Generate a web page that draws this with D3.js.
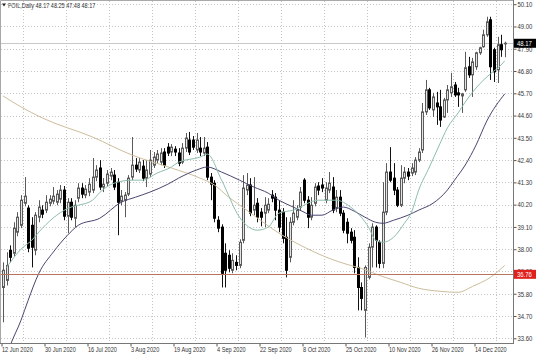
<!DOCTYPE html>
<html>
<head>
<meta charset="utf-8">
<script src="https://cdn.jsdelivr.net/npm/d3@7"></script>
<style>
  body { margin: 0; background: #fff; }
  svg { display: block; font-family: "Liberation Sans", Arial, sans-serif; }
</style>
</head>
<body>
<svg id="chart" width="536" height="357"></svg>
<script>
// chart title / last bar values
const symbol = 'FOIL,Daily';

// daily bars
const opens = [36.11,36.46,37.95,37.80,38.84,39.18,40.27,40.03,39.18,37.95,
  39.58,39.93,39.93,40.27,40.37,40.32,40.47,40.92,39.63,40.32,
  39.53,40.52,41.02,40.67,40.82,40.92,41.56,42.01,41.07,41.26,
  41.61,41.66,41.31,40.37,40.42,40.72,41.56,42.15,41.91,42.10,
  41.51,41.71,42.15,42.40,42.30,42.80,43.04,42.80,42.94,42.75,
  42.30,42.99,43.39,43.39,42.90,42.99,42.75,43.04,41.56,41.26,
  39.43,39.09,37.80,37.70,36.96,37.35,37.20,38.44,40.92,41.17,
  39.93,40.27,39.83,39.78,39.93,40.67,40.57,39.93,39.83,38.59,
  37.60,39.33,39.58,40.08,41.41,40.42,39.58,40.27,41.12,41.17,
  40.42,40.92,41.07,40.03,40.57,39.78,39.33,38.84,38.59,37.10,
  36.11,34.98,36.61,38.10,39.09,38.34,37.30,39.83,41.81,41.51,
  40.92,40.17,41.51,41.81,41.76,41.81,42.40,42.90,44.78,45.87,
  44.88,45.22,45.03,44.53,45.37,45.72,46.11,45.72,45.57,45.87,
  47.01,46.61,47.01,47.70,48.00,48.59,49.33,47.85,46.86,48.10,
  48.17];
const highs = [37.35,37.85,38.19,39.33,39.83,40.67,41.56,40.17,39.58,39.83,
  40.42,40.17,40.67,40.67,41.07,40.92,41.17,41.12,40.52,40.52,
  40.42,41.26,41.26,41.17,41.51,42.50,42.15,42.40,41.51,41.91,
  42.01,41.91,41.51,40.92,40.82,41.66,43.54,42.50,42.50,42.40,
  42.40,42.90,42.80,42.90,42.99,42.99,43.24,43.19,43.09,42.99,
  43.24,43.74,43.79,43.59,43.74,43.54,43.54,43.29,41.76,41.41,
  39.63,39.23,38.29,37.95,37.80,37.70,38.49,41.66,41.76,41.51,
  41.56,40.52,40.03,40.57,40.52,40.92,40.77,40.42,40.03,39.58,
  39.58,40.42,40.17,41.07,41.51,40.62,40.57,41.26,41.31,41.51,
  41.31,41.81,41.56,40.92,40.92,39.93,39.53,39.04,38.94,37.60,
  36.36,37.20,38.29,39.28,39.18,38.44,41.31,42.25,43.04,42.25,
  41.07,42.15,42.06,42.01,42.25,42.55,42.99,45.22,46.36,45.97,
  45.72,45.77,45.87,45.47,46.11,46.71,46.26,45.97,45.72,47.75,
  47.50,47.45,47.75,48.00,48.84,49.48,49.48,47.95,48.49,48.59,
  48.25];
const lows = [34.39,36.21,37.35,37.65,38.64,39.04,40.12,37.85,37.10,37.70,
  39.33,39.53,39.78,40.12,40.22,40.17,40.27,39.43,38.79,39.43,
  39.09,40.32,40.52,40.52,40.62,40.77,41.36,40.92,40.82,41.12,
  41.41,40.92,38.69,40.17,39.58,40.62,41.41,41.81,41.76,41.36,
  41.07,41.56,42.01,42.25,42.15,42.01,42.60,42.60,42.60,42.10,
  42.20,42.80,42.65,42.90,42.75,42.60,42.60,41.41,40.42,39.33,
  38.84,36.11,36.11,36.86,36.81,36.96,37.06,38.29,40.67,39.63,
  39.68,39.33,39.13,39.09,39.78,40.32,39.43,38.84,38.29,36.61,
  37.35,39.18,39.43,39.93,40.27,39.04,39.43,40.12,40.67,40.82,
  40.27,40.77,39.78,39.83,39.63,38.79,38.29,38.29,36.81,34.98,
  34.98,33.64,36.51,37.10,37.10,37.06,37.06,39.68,41.31,40.67,
  40.08,40.08,41.26,41.41,41.61,41.66,42.30,42.75,44.63,44.88,
  44.53,44.14,44.04,44.48,44.73,45.52,45.52,45.03,44.73,45.77,
  46.46,45.52,46.86,47.60,47.95,48.49,46.36,46.26,46.21,47.50,
  47.48];
const closes = [36.96,37.20,37.60,39.04,39.58,40.42,40.62,38.05,38.10,39.68,
  40.08,39.73,40.32,40.47,40.62,40.72,40.92,39.63,40.32,39.58,
  40.17,41.02,40.72,40.97,41.21,41.56,41.91,41.07,41.21,41.71,
  41.81,41.07,40.32,40.62,40.67,41.51,42.15,41.96,42.30,41.51,
  41.91,42.40,42.55,42.70,42.75,42.15,42.75,43.04,42.80,42.25,
  42.99,43.49,42.80,43.04,43.39,42.80,42.99,41.56,41.21,39.53,
  39.04,36.81,36.96,37.06,37.45,37.20,38.34,41.02,41.17,39.78,
  40.17,39.58,39.58,40.17,40.22,40.52,39.93,39.09,38.54,36.96,
  39.33,39.78,39.93,40.82,40.42,39.58,40.17,41.07,40.92,41.02,
  41.02,41.26,39.93,40.57,39.78,38.94,38.79,38.44,37.10,36.11,
  35.57,37.10,38.10,39.09,38.44,37.30,39.83,41.81,41.41,40.92,
  40.17,41.51,41.81,41.61,42.01,42.40,42.80,44.78,45.87,44.98,
  45.52,45.03,44.38,45.37,45.87,46.02,45.62,45.62,45.67,46.96,
  46.61,47.25,47.70,47.95,48.59,49.23,47.01,46.76,48.10,47.85,
  48.17];

// moving averages, [bar index, value] read at sample points
const maFast = [[1,37.10],[5,38.00],[8,38.44],[11,39.04],[15,39.68],[19,40.08],[21,40.17],
  [25,40.42],[27,40.80],[31,41.26],[36,41.41],[39,41.41],[43,41.76],[47,42.06],[49,42.30],
  [55,42.55],[57,42.70],[61,41.41],[66,39.58],[71,38.94],[74,39.09],[77,39.78],[81,39.93],
  [88,40.42],[93,40.42],[97,40.08],[100,39.58],[102,39.09],[104,38.44],[106,38.34],[109,38.59],
  [112,39.28],[114,39.83],[116,40.92],[119,42.06],[122,43.24],[124,43.99],[127,44.73],
  [129,45.27],[133,46.16],[136,46.66],[139,47.10],[140,47.30]];
const maMid = [[1,32.74],[2,33.24],[5,34.48],[7,35.47],[10,36.81],[14,37.85],[18,38.69],
  [21,39.18],[27,39.53],[33,40.32],[37,40.57],[41,40.82],[46,41.21],[49,41.51],[54,41.91],
  [57,42.06],[61,41.81],[66,41.41],[70,41.07],[74,40.77],[77,40.42],[81,40.08],[84,39.83],
  [86,39.68],[89,39.68],[92,39.93],[95,40.08],[98,39.88],[101,39.58],[104,39.33],[106,39.28],
  [109,39.43],[113,39.68],[116,39.93],[120,40.27],[124,40.92],[126,41.41],[129,42.16],
  [132,43.14],[135,44.33],[140,45.67]];
const maSlow = [[0,45.57],[5,45.03],[11,44.48],[25,43.54],[36,42.65],[47,42.01],[55,41.51],
  [59,41.17],[63,40.57],[68,39.93],[73,39.28],[77,38.79],[82,38.29],[87,37.85],[91,37.55],
  [96,37.25],[100,37.05],[105,36.71],[111,36.36],[116,36.07],[122,35.92],[127,35.87],
  [131,36.16],[136,36.61],[140,37.20]];

// axis labels
const priceTicks = [50.10,49.00,47.90,46.80,45.70,44.60,43.50,42.40,41.30,40.20,39.10,38.00,36.90,35.80,34.70,33.60];
const dateTicks = [0,12,24,36,48,60,72,84,96,108,120,132];
const dateLabels = ['12 Jun 2020','30 Jun 2020','16 Jul 2020','3 Aug 2020','19 Aug 2020','4 Sep 2020',
  '22 Sep 2020','8 Oct 2020','25 Oct 2020','10 Nov 2020','26 Nov 2020','14 Dec 2020'];
const levelLine = 36.76;

const width = 536, height = 357;
const plotRight = 513, plotBottom = 343;
const last = closes.length - 1;

const svg = d3.select('#chart');

// set ranges
let x = d3.scaleLinear().domain([0, last]).range([3, 504.7]);
let y = d3.scaleLinear().domain([33.60, 50.10]).range([338.3, 4.2]);
const px = i => Math.round(x(i));

svg.append('defs').append('clipPath').attr('id', 'plot')
  .append('rect').attr('width', plotRight).attr('height', plotBottom);

// grid
let grid = svg.append('g')
  .attr('stroke', '#c4c4c4')
  .attr('stroke-dasharray', '1,2');
grid.selectAll('line.h').data(priceTicks).join('line')
  .attr('class', 'h')
  .attr('x1', 1).attr('x2', plotRight)
  .attr('y1', d => Math.round(y(d)) + 0.5)
  .attr('y2', d => Math.round(y(d)) + 0.5);
grid.selectAll('line.v').data(dateTicks).join('line')
  .attr('class', 'v')
  .attr('x1', d => Math.round(x(d + 5.5)) + 0.5)
  .attr('x2', d => Math.round(x(d + 5.5)) + 0.5)
  .attr('y1', 1).attr('y2', plotBottom);

let plot = svg.append('g').attr('clip-path', 'url(#plot)');

// bid line
plot.append('line')
  .attr('x1', 0).attr('x2', plotRight)
  .attr('y1', Math.round(y(closes[last])) + 0.5)
  .attr('y2', Math.round(y(closes[last])) + 0.5)
  .attr('stroke', '#c8c8c8');

// candles
const idx = d3.range(closes.length);
const isUp = i => closes[i] >= opens[i];

plot.selectAll('line.wick').data(idx).join('line')
  .attr('class', 'wick')
  .attr('x1', i => px(i) + 0.5).attr('x2', i => px(i) + 0.5)
  .attr('y1', i => y(highs[i])).attr('y2', i => y(lows[i]))
  .attr('stroke', i => isUp(i) ? '#5a5a5a' : '#111');

plot.selectAll('rect.body').data(idx).join('rect')
  .attr('class', 'body')
  .attr('x', i => px(i) - 0.5)
  .attr('width', 2)
  .attr('y', i => y(Math.max(opens[i], closes[i])))
  .attr('height', i => Math.max(0.6, Math.abs(y(opens[i]) - y(closes[i]))))
  .attr('fill', i => isUp(i) ? '#e4e4e4' : '#000')
  .attr('stroke', i => isUp(i) ? '#5a5a5a' : '#000')
  .attr('stroke-width', 1);

// moving averages
let maLine = d3.line()
  .x(d => x(d[0]))
  .y(d => y(d[1]))
  .curve(d3.curveMonotoneX);

plot.append('path').datum(maSlow)
  .attr('d', maLine).attr('fill', 'none').attr('stroke', '#cdbd9c').attr('stroke-width', 1);
plot.append('path').datum(maMid)
  .attr('d', maLine).attr('fill', 'none').attr('stroke', '#48466f').attr('stroke-width', 1);
plot.append('path').datum(maFast)
  .attr('d', maLine).attr('fill', 'none').attr('stroke', '#8dbdae').attr('stroke-width', 1);

// horizontal level
plot.append('line')
  .attr('x1', 0).attr('x2', plotRight)
  .attr('y1', Math.round(y(levelLine)) + 0.5)
  .attr('y2', Math.round(y(levelLine)) + 0.5)
  .attr('stroke', '#b8735f');

// frame
svg.append('path')
  .attr('d', 'M' + plotRight + '.5,0.5 H0.5 V' + plotBottom + '.5')
  .attr('fill', 'none').attr('stroke', '#a8a8a8');

// price axis
let yAxis = svg.append('g')
  .attr('transform', 'translate(' + (plotRight + 0.5) + ',0)')
  .call(d3.axisRight(y).tickValues(priceTicks).tickFormat(d3.format('.2f')).tickSize(3).tickSizeOuter(0));
yAxis.select('.domain').remove();
yAxis.selectAll('line').attr('stroke', '#555');
yAxis.selectAll('text')
  .attr('fill', '#333').attr('font-size', '7px')
  .attr('x', 4 / 0.85).attr('transform', 'scale(0.85,1)');
svg.append('line')
  .attr('x1', plotRight + 0.5).attr('x2', plotRight + 0.5)
  .attr('y1', 0).attr('y2', plotBottom + 1)
  .attr('stroke', '#777');

// time axis
let xAxis = svg.append('g')
  .attr('transform', 'translate(0,' + (plotBottom + 0.5) + ')')
  .call(d3.axisBottom(x).tickValues(dateTicks).tickFormat((d, i) => dateLabels[i]).tickSize(3).tickSizeOuter(0));
xAxis.select('.domain').remove();
xAxis.selectAll('line').attr('stroke', '#555');
xAxis.selectAll('.tick')
  .attr('transform', d => 'translate(' + (px(d) - 1) + ',0)');
xAxis.selectAll('text')
  .attr('fill', '#333').attr('font-size', '7px')
  .attr('text-anchor', 'start')
  .attr('x', 0).attr('y', 4).attr('transform', 'scale(0.8,1)');
svg.append('line')
  .attr('x1', 0).attr('x2', plotRight + 1)
  .attr('y1', plotBottom + 0.5).attr('y2', plotBottom + 0.5)
  .attr('stroke', '#777');

// price tags on the axis
function tag(price, fill) {
  let t = svg.append('g').attr('transform', 'translate(' + (plotRight + 1) + ',' + y(price) + ')');
  t.append('rect').attr('x', 0).attr('y', -4.5).attr('width', 22).attr('height', 9).attr('fill', fill);
  t.append('text')
    .attr('x', 3 / 0.85).attr('y', 0).attr('dy', '0.34em')
    .attr('transform', 'scale(0.85,1)')
    .attr('fill', '#fff').attr('font-size', '7px')
    .text(d3.format('.2f')(price));
}
tag(closes[last], '#000');
tag(levelLine, '#e0201c');

// header
svg.append('path').attr('d', 'M2,3.5 L6,3.5 L4,6.5 Z').attr('fill', '#222');
svg.append('text')
  .attr('x', 8 / 0.85).attr('y', 8)
  .attr('transform', 'scale(0.85,1)')
  .attr('fill', '#333').attr('font-size', '6.5px')
  .text(symbol + '  ' + [opens[last], highs[last], lows[last], closes[last]].map(d3.format('.2f')).join(' '));
</script>
</body>
</html>
